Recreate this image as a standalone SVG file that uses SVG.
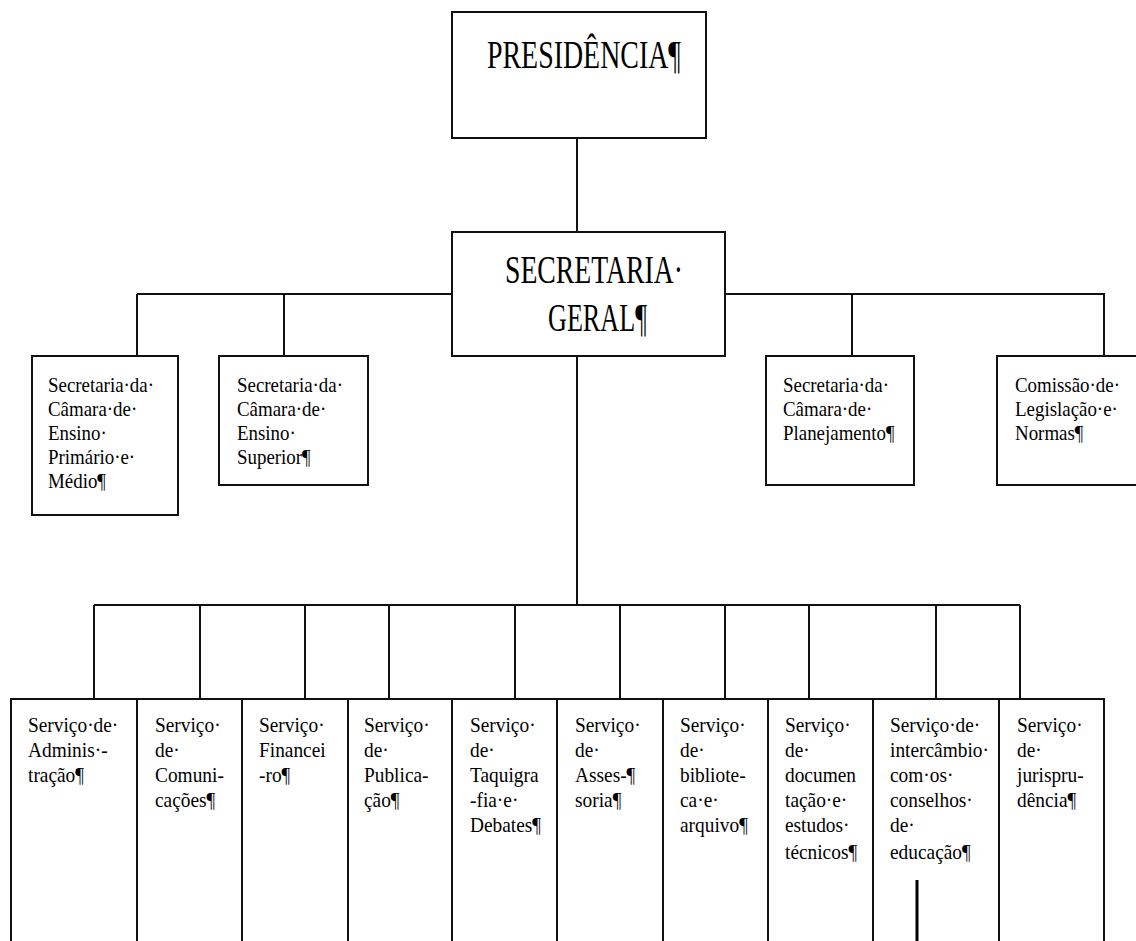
<svg xmlns="http://www.w3.org/2000/svg" width="1136" height="941" viewBox="0 0 1136 941">
<style>
.box{fill:#fff;stroke:#111;stroke-width:2}
.ln{stroke:#111;stroke-width:2;fill:none}
.big{font-family:"Liberation Serif","Times New Roman",serif;font-size:40px;fill:#000}
.sm{font-family:"Liberation Serif","Times New Roman",serif;font-size:22px;fill:#000}
</style>
<rect width="1136" height="941" fill="#fff"/>
<g id="connectors">
<line class="ln" x1="577" y1="138" x2="577" y2="232"/>
<line class="ln" x1="137" y1="294" x2="452" y2="294"/>
<line class="ln" x1="725" y1="294" x2="1105" y2="294"/>
<line class="ln" x1="137" y1="294" x2="137" y2="356"/>
<line class="ln" x1="284" y1="294" x2="284" y2="356"/>
<line class="ln" x1="852" y1="294" x2="852" y2="356"/>
<line class="ln" x1="1104" y1="294" x2="1104" y2="356"/>
<line class="ln" x1="577" y1="356" x2="577" y2="605"/>
<line class="ln" x1="94" y1="605" x2="1020" y2="605"/>
<line class="ln" x1="94" y1="605" x2="94" y2="699"/>
<line class="ln" x1="200" y1="605" x2="200" y2="699"/>
<line class="ln" x1="305" y1="605" x2="305" y2="699"/>
<line class="ln" x1="389" y1="605" x2="389" y2="699"/>
<line class="ln" x1="515" y1="605" x2="515" y2="699"/>
<line class="ln" x1="620" y1="605" x2="620" y2="699"/>
<line class="ln" x1="725" y1="605" x2="725" y2="699"/>
<line class="ln" x1="809" y1="605" x2="809" y2="699"/>
<line class="ln" x1="936" y1="605" x2="936" y2="699"/>
<line class="ln" x1="1020" y1="605" x2="1020" y2="699"/>
</g>
<g id="presidencia">
<rect class="box" x="452" y="12" width="254" height="126"/>
<text class="big" x="487" y="68" textLength="194" lengthAdjust="spacingAndGlyphs">PRESIDÊNCIA¶</text>
</g>
<g id="secretaria-geral">
<rect class="box" x="452" y="232" width="273" height="124"/>
<text class="big" x="505" y="283" textLength="178" lengthAdjust="spacingAndGlyphs">SECRETARIA·</text>
<text class="big" x="548" y="331" textLength="99" lengthAdjust="spacingAndGlyphs">GERAL¶</text>
</g>
<g id="sec-ensino-primario">
<rect class="box" x="32" y="356" width="146" height="159"/>
<g transform="translate(48,0) scale(0.86,1)"><text class="sm"><tspan x="0" y="392">Secretaria·da·</tspan><tspan x="0" y="416">Câmara·de·</tspan><tspan x="0" y="440">Ensino·</tspan><tspan x="0" y="464">Primário·e·</tspan><tspan x="0" y="488">Médio¶</tspan></text></g>
</g>
<g id="sec-ensino-superior">
<rect class="box" x="219" y="356" width="149" height="129"/>
<g transform="translate(237,0) scale(0.86,1)"><text class="sm"><tspan x="0" y="392">Secretaria·da·</tspan><tspan x="0" y="416">Câmara·de·</tspan><tspan x="0" y="440">Ensino·</tspan><tspan x="0" y="464">Superior¶</tspan></text></g>
</g>
<g id="sec-planejamento">
<rect class="box" x="766" y="356" width="148" height="129"/>
<g transform="translate(783,0) scale(0.86,1)"><text class="sm"><tspan x="0" y="392">Secretaria·da·</tspan><tspan x="0" y="416">Câmara·de·</tspan><tspan x="0" y="440">Planejamento¶</tspan></text></g>
</g>
<g id="comissao-legislacao">
<rect class="box" x="997" y="356" width="160" height="129"/>
<g transform="translate(1015,0) scale(0.86,1)"><text class="sm"><tspan x="0" y="392">Comissão·de·</tspan><tspan x="0" y="416">Legislação·e·</tspan><tspan x="0" y="440">Normas¶</tspan></text></g>
</g>
<g id="serv-administracao">
<rect class="box" x="11" y="699" width="126" height="260"/>
<g transform="translate(28,0) scale(0.88,1)"><text class="sm"><tspan x="0" y="732">Serviço·de·</tspan><tspan x="0" y="757">Adminis·-</tspan><tspan x="0" y="782">tração¶</tspan></text></g>
</g>
<g id="serv-comunicacoes">
<rect class="box" x="137" y="699" width="105" height="260"/>
<g transform="translate(155,0) scale(0.88,1)"><text class="sm"><tspan x="0" y="732">Serviço·</tspan><tspan x="0" y="757">de·</tspan><tspan x="0" y="782">Comuni-</tspan><tspan x="0" y="807">cações¶</tspan></text></g>
</g>
<g id="serv-financeiro">
<rect class="box" x="242" y="699" width="106" height="260"/>
<g transform="translate(259,0) scale(0.88,1)"><text class="sm"><tspan x="0" y="732">Serviço·</tspan><tspan x="0" y="757">Financei</tspan><tspan x="0" y="782">-ro¶</tspan></text></g>
</g>
<g id="serv-publicacao">
<rect class="box" x="348" y="699" width="104" height="260"/>
<g transform="translate(364,0) scale(0.88,1)"><text class="sm"><tspan x="0" y="732">Serviço·</tspan><tspan x="0" y="757">de·</tspan><tspan x="0" y="782">Publica-</tspan><tspan x="0" y="807">ção¶</tspan></text></g>
</g>
<g id="serv-taquigrafia">
<rect class="box" x="452" y="699" width="105" height="260"/>
<g transform="translate(470,0) scale(0.88,1)"><text class="sm"><tspan x="0" y="732">Serviço·</tspan><tspan x="0" y="757">de·</tspan><tspan x="0" y="782">Taquigra</tspan><tspan x="0" y="807">-fia·e·</tspan><tspan x="0" y="832">Debates¶</tspan></text></g>
</g>
<g id="serv-assessoria">
<rect class="box" x="557" y="699" width="106" height="260"/>
<g transform="translate(575,0) scale(0.88,1)"><text class="sm"><tspan x="0" y="732">Serviço·</tspan><tspan x="0" y="757">de·</tspan><tspan x="0" y="782">Asses-¶</tspan><tspan x="0" y="807">soria¶</tspan></text></g>
</g>
<g id="serv-biblioteca">
<rect class="box" x="663" y="699" width="105" height="260"/>
<g transform="translate(680,0) scale(0.88,1)"><text class="sm"><tspan x="0" y="732">Serviço·</tspan><tspan x="0" y="757">de·</tspan><tspan x="0" y="782">bibliote-</tspan><tspan x="0" y="807">ca·e·</tspan><tspan x="0" y="832">arquivo¶</tspan></text></g>
</g>
<g id="serv-documentacao">
<rect class="box" x="768" y="699" width="105" height="260"/>
<g transform="translate(785,0) scale(0.88,1)"><text class="sm"><tspan x="0" y="732">Serviço·</tspan><tspan x="0" y="757">de·</tspan><tspan x="0" y="782">documen</tspan><tspan x="0" y="807">tação·e·</tspan><tspan x="0" y="832">estudos·</tspan><tspan x="0" y="859">técnicos¶</tspan></text></g>
</g>
<g id="serv-intercambio">
<rect class="box" x="873" y="699" width="126" height="260"/>
<g transform="translate(890,0) scale(0.88,1)"><text class="sm"><tspan x="0" y="732">Serviço·de·</tspan><tspan x="0" y="757">intercâmbio·</tspan><tspan x="0" y="782">com·os·</tspan><tspan x="0" y="807">conselhos·</tspan><tspan x="0" y="832">de·</tspan><tspan x="0" y="859">educação¶</tspan></text></g>
<line x1="917" y1="880" x2="917" y2="941" stroke="#000" stroke-width="3"/>
</g>
<g id="serv-jurisprudencia">
<rect class="box" x="999" y="699" width="105" height="260"/>
<g transform="translate(1017,0) scale(0.88,1)"><text class="sm"><tspan x="0" y="732">Serviço·</tspan><tspan x="0" y="757">de·</tspan><tspan x="0" y="782">jurispru-</tspan><tspan x="0" y="807">dência¶</tspan></text></g>
</g>
</svg>
